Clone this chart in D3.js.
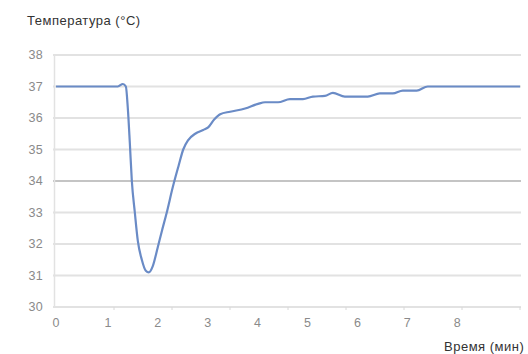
<!DOCTYPE html>
<html>
<head>
<meta charset="utf-8">
<script src="https://cdn.jsdelivr.net/npm/d3@7"></script>
<style>
  html, body { margin: 0; padding: 0; background: #fff; }
  svg { display: block; font-family: "Liberation Sans", Arial, sans-serif; }
</style>
</head>
<body>
<svg id="chart" width="528" height="354"></svg>
<script>
// Body temperature over time (minutes)
const timeMin = [0, 1.24, 1.34, 1.40, 1.44, 1.48, 1.52, 1.58, 1.64, 1.72, 1.80, 1.86, 1.94, 2.04, 2.12, 2.22, 2.34, 2.46, 2.55, 2.65, 2.79, 2.95, 3.05, 3.17, 3.29, 3.49, 3.79, 4.05, 4.19, 4.45, 4.69, 4.95, 5.15, 5.39, 5.55, 5.79, 6.25, 6.49, 6.75, 6.95, 7.23, 7.45, 9.3];
const tempC   = [37.0, 37.0, 37.08, 37.0, 36.3, 35.2, 34.0, 33.0, 32.1, 31.5, 31.15, 31.1, 31.3, 31.9, 32.4, 33.0, 33.8, 34.5, 35.0, 35.3, 35.5, 35.62, 35.7, 35.95, 36.12, 36.2, 36.3, 36.45, 36.5, 36.5, 36.6, 36.6, 36.68, 36.7, 36.8, 36.68, 36.68, 36.78, 36.78, 36.87, 36.87, 37.0, 37.0];
const yTicks = [30, 31, 32, 33, 34, 35, 36, 37, 38];
const xTickLabels = [0, 1, 2, 3, 4, 5, 6, 7, 8];
const yTitle = "Температура (°C)";
const xTitle = "Время (мин)";

const svg = d3.select("#chart");
const x = d3.scaleLinear().domain([0, 9.3]).range([56, 520]);
const y = d3.scaleLinear().domain([30, 38]).range([307, 55]);

// horizontal gridlines
svg.append("g").selectAll("line").data(yTicks).join("line")
  .attr("x1", 53).attr("x2", 521)
  .attr("y1", d => y(d)).attr("y2", d => y(d))
  .attr("stroke", d => d === 34 ? "#c4c4c4" : "#e2e2e2")
  .attr("stroke-width", 2);

// left axis line
svg.append("line")
  .attr("x1", 54.5).attr("x2", 54.5).attr("y1", y(38)).attr("y2", y(30))
  .attr("stroke", "#e2e2e2").attr("stroke-width", 1.5);

// bottom tick marks (evenly spaced along the axis)
const tickMarks = d3.range(1, 9).map(k => k * 9.3 / 8);
svg.append("g").selectAll("line").data(tickMarks).join("line")
  .attr("x1", d => x(d)).attr("x2", d => x(d))
  .attr("y1", y(30)).attr("y2", y(30) + 3)
  .attr("stroke", "#d8d8d8").attr("stroke-width", 1);

// y labels
svg.append("g").selectAll("text").data(yTicks).join("text")
  .attr("x", 43).attr("y", d => y(d))
  .attr("dy", "0.35em")
  .attr("text-anchor", "end")
  .attr("font-size", 12.5)
  .attr("letter-spacing", 0.3)
  .attr("fill", "#8a8a8a")
  .text(d => d);

// x labels
svg.append("g").selectAll("text").data(xTickLabels).join("text")
  .attr("x", d => d === 0 ? x(d) : x(d) + 2).attr("y", 323)
  .attr("dy", "0.35em")
  .attr("text-anchor", "middle")
  .attr("font-size", 12.5)
  .attr("fill", "#8a8a8a")
  .text(d => d);

// titles
svg.append("text").attr("x", 27).attr("y", 25)
  .attr("font-size", 13).attr("letter-spacing", 0.5)
  .attr("fill", "#333").text(yTitle);
svg.append("text").attr("x", 444).attr("y", 351)
  .attr("font-size", 13).attr("letter-spacing", 0.5)
  .attr("fill", "#333").text(xTitle);

// temperature line
const line = d3.line()
  .x((d, i) => x(timeMin[i]))
  .y(d => y(d))
  .curve(d3.curveMonotoneX);
svg.append("path")
  .datum(tempC)
  .attr("d", line)
  .attr("fill", "none")
  .attr("stroke", "#6a8bc6")
  .attr("stroke-width", 2.2)
  .attr("stroke-linejoin", "round");
</script>
</body>
</html>
